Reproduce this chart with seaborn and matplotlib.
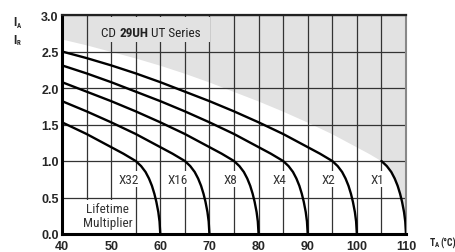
import matplotlib
matplotlib.use("Agg")
import matplotlib.pyplot as plt
import pandas as pd
import seaborn as sns
from matplotlib.patches import Rectangle
from matplotlib.ticker import MultipleLocator, FormatStrFormatter

# curves: ambient temperature (°C) vs current ratio IA/IR
x32_temp = [40, 45, 50, 52.5, 55, 56.1, 57.0, 57.7, 58.3, 58.8, 59.2, 59.6, 59.85, 60]
x32_curr = [1.53, 1.37, 1.19, 1.10, 1.0, 0.93, 0.85, 0.76, 0.66, 0.55, 0.44, 0.30, 0.17, 0]

x16_temp = [40, 45, 50, 55, 60, 62.5, 65, 66.1, 67.0, 67.7, 68.3, 68.8, 69.2, 69.6, 69.85, 70]
x16_curr = [1.82, 1.68, 1.53, 1.37, 1.19, 1.10, 1.0, 0.93, 0.85, 0.76, 0.66, 0.55, 0.44, 0.30, 0.17, 0]

x8_temp = [40, 45, 50, 55, 60, 65, 70, 72.5, 75, 76.1, 77.0, 77.7, 78.3, 78.8, 79.2, 79.6, 79.85, 80]
x8_curr = [2.08, 1.95, 1.82, 1.68, 1.53, 1.37, 1.19, 1.10, 1.0, 0.93, 0.85, 0.76, 0.66, 0.55, 0.44, 0.30, 0.17, 0]

x4_temp = [40, 45, 50, 55, 60, 65, 70, 75, 80, 82.5, 85, 86.1, 87.0, 87.7, 88.3, 88.8, 89.2, 89.6, 89.85, 90]
x4_curr = [2.31, 2.20, 2.08, 1.95, 1.82, 1.68, 1.53, 1.37, 1.19, 1.10, 1.0, 0.93, 0.85, 0.76, 0.66, 0.55, 0.44, 0.30, 0.17, 0]

x2_temp = [40, 45, 50, 55, 60, 65, 70, 75, 80, 85, 90, 92.5, 95, 96.1, 97.0, 97.7, 98.3, 98.8, 99.2, 99.6, 99.85, 100]
x2_curr = [2.50, 2.41, 2.31, 2.20, 2.08, 1.95, 1.82, 1.68, 1.53, 1.37, 1.19, 1.10, 1.0, 0.93, 0.85, 0.76, 0.66, 0.55, 0.44, 0.30, 0.17, 0]

x1_temp = [40, 45, 50, 55, 60, 65, 70, 75, 80, 85, 90, 95, 100, 102.5, 105, 106.1, 107.0, 107.7, 108.3, 108.8, 109.2, 109.6, 109.85, 110]
x1_curr = [2.67, 2.59, 2.50, 2.41, 2.31, 2.20, 2.08, 1.95, 1.82, 1.68, 1.53, 1.37, 1.19, 1.10, 1.0, 0.93, 0.85, 0.76, 0.66, 0.55, 0.44, 0.30, 0.17, 0]

series = ['X32', 'X16', 'X8', 'X4', 'X2', 'X1']
end_temps = [60, 70, 80, 90, 100, 110]
temps = [x32_temp, x16_temp, x8_temp, x4_temp, x2_temp, x1_temp]
currs = [x32_curr, x16_curr, x8_curr, x4_curr, x2_curr, x1_curr]

frames = []
for name, t, c in zip(series, temps, currs):
    frames.append(pd.DataFrame({'temp': t, 'current': c, 'series': name}))
df = pd.concat(frames, ignore_index=True)
# X1 only shows its tail, the rest is the edge of the grey area
shown = df[(df['series'] != 'X1') | (df['temp'] >= 105)]

narrow = ['Liberation Sans Narrow', 'Roboto Condensed', 'Roboto', 'DejaVu Sans']
grey = '#e2e2e2'

sns.set_style("white")
plt.rcParams['font.family'] = ['Liberation Sans', 'DejaVu Sans']

fig = plt.figure(figsize=(4.56, 2.53), dpi=100)
ax = fig.add_axes([62 / 456, 1 - 235 / 253, (406 - 62) / 456, (235 - 16) / 253])

ax.fill_between(x1_temp, x1_curr, 3.0, color=grey, lw=0, zorder=0)

sns.lineplot(data=shown, x='temp', y='current', hue='series',
             palette={s: 'black' for s in series}, estimator=None,
             legend=False, lw=1.7, ax=ax, zorder=4)

ax.set_xlim(40, 110)
ax.set_ylim(0, 3)
ax.xaxis.set_major_locator(MultipleLocator(10))
ax.xaxis.set_minor_locator(MultipleLocator(5))
ax.yaxis.set_major_locator(MultipleLocator(0.5))
ax.yaxis.set_major_formatter(FormatStrFormatter('%.1f'))
ax.set_axisbelow(True)
ax.grid(which='both', color='#333333', lw=0.9)
ax.set_xlabel('')
ax.set_ylabel('')

ax.tick_params(which='both', length=0, labelsize=9)
ax.tick_params(axis='x', pad=4.5)
ax.tick_params(axis='y', pad=2.5)
for lab in ax.get_xticklabels() + ax.get_yticklabels():
    lab.set_fontweight('bold')

for side in ['left', 'bottom']:
    ax.spines[side].set_linewidth(2.2)
    ax.spines[side].set_color('black')
ax.spines['top'].set_linewidth(1.6)
ax.spines['top'].set_color('#222222')
ax.spines['right'].set_linewidth(1.5)
ax.spines['right'].set_color('#888888')

# multiplier labels
for name, end in zip(series, end_temps):
    ax.text(end - 4.4, 0.75, name, ha='right', va='center', size=9.5,
            color='#333333', family=narrow, zorder=5,
            bbox=dict(fc='white', ec='none', pad=1))

ax.add_patch(Rectangle((40, 0), 14.6, 0.47, fc='white', ec='none', zorder=2))
ax.text(49.3, 0.25, "Lifetime\nMultiplier", ha='center', va='center', size=9.5,
        color='#333333', family=narrow, linespacing=1.05, zorder=5)

# series name, "29UH" in bold, on a grey patch hiding the grid
ax.add_patch(Rectangle((46.7, 2.63), 23.4, 0.34, fc=grey, ec='none', zorder=2))
t1 = ax.text(48, 2.76, "CD ", ha='left', va='center', size=9.5,
             color='#222222', family=narrow, zorder=5)
t2 = ax.annotate("29UH", xy=(1, 0), xycoords=t1, ha='left', va='bottom',
                 size=9.5, color='#222222', family=narrow, fontweight='bold',
                 zorder=5)
ax.annotate(" UT Series", xy=(1, 0), xycoords=t2, ha='left', va='bottom',
            size=9.5, color='#222222', family=narrow, zorder=5)

# axis captions
for y_px, sub in [(23, 'A'), (40, 'R')]:
    fig.text(13 / 456, 1 - y_px / 253, "I", size=9, ha='left', va='center',
             fontweight='bold', family=narrow)
    fig.text(17 / 456, 1 - (y_px + 3) / 253, sub, size=5, ha='left', va='center',
             fontweight='bold', family=narrow)

fig.text(430 / 456, 1 - 243 / 253, "T", size=7, ha='left', va='center',
         fontweight='bold', family=narrow)
fig.text(435 / 456, 1 - 245 / 253, "A", size=5, ha='left', va='center',
         fontweight='bold', family=narrow)
fig.text(440 / 456, 1 - 243 / 253, "(°C)", size=7, ha='left', va='center',
         fontweight='bold', family=narrow)

fig.savefig('out.png', dpi=100)
